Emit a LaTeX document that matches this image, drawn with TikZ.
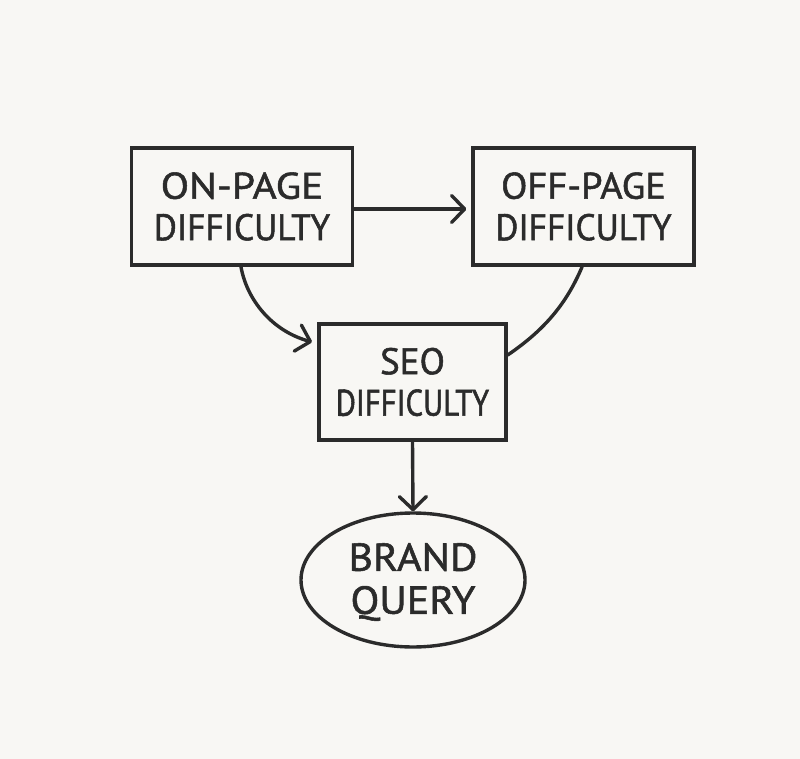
\documentclass[tikz,border=0pt]{standalone}
\usepackage{fontspec}
\setmainfont{PT Sans}
\newfontfamily\onface[FakeBold=1.4,FakeStretch=1.12]{PT Sans}
\newfontfamily\offface[FakeBold=1.4,FakeStretch=1.04]{PT Sans}
\newfontfamily\plainface[FakeBold=1.4,FakeStretch=0.955]{PT Sans}
\newfontfamily\slimface[FakeBold=1.4,FakeStretch=0.83]{PT Sans}
\newfontfamily\ovalface[FakeBold=1.4,FakeStretch=1.08]{PT Sans}
\newfontfamily\seoface[FakeBold=1.4]{PT Sans}
\usetikzlibrary{shapes.geometric,arrows.meta}
\definecolor{paper}{HTML}{F8F7F4}
\definecolor{ink}{HTML}{2B2B2B}
\tikzset{
 x=1pt,y=-1pt,
 box/.style={draw=ink,line width=3.4pt,rectangle,inner sep=0pt,align=center,text=ink,font=\fontsize{37}{41.5}\selectfont},
 oval/.style={box,ellipse,font=\fontsize{39}{43}\selectfont},
 conn/.style={draw=ink,line width=3.4pt,line cap=round},
 tip/.style={conn,-{Straight Barb[length=13pt,width=27pt,round,line width=3.4pt]}}
}
\begin{document}
\begin{tikzpicture}
\useasboundingbox[fill=paper] (0,0) rectangle (800,759);
\node[box,minimum width=221pt,minimum height=117pt] (on) at (242,206.5) {{\onface ON-PAGE}\\{\plainface DIFFICULTY}};
\node[box,minimum width=221pt,minimum height=117pt] (off) at (583.5,206.5) {{\offface OFF-PAGE}\\{\plainface DIFFICULTY}};
\node[box,minimum width=187pt,minimum height=116pt] (seo) at (412.5,382) {{\seoface SEO}\\{\slimface DIFFICULTY}};
\node[oval,minimum width=224pt,minimum height=134pt] (brand) at (413,580) {\raisebox{-2pt}[\height][\depth]{\ovalface BRAND}\\\raisebox{-2pt}[\height][\depth]{\ovalface QUERY}};
\draw[tip,shorten >=5pt] (on.east |- 0,209) -- (off.west |- 0,209);
\draw[tip] (241,267) .. controls (247,300) and (272,331) .. (312,342);
\draw[conn] (582,267) .. controls (566,305) and (543,331) .. (seo.east |- 0,355);
\draw[tip] (seo.south) -- (brand.north);
\end{tikzpicture}
\end{document}
